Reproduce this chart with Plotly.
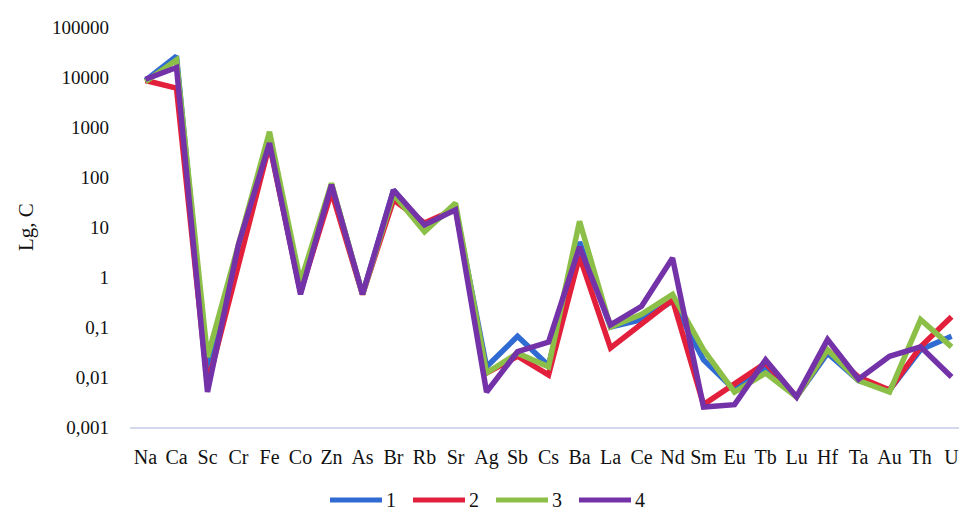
import plotly.graph_objects as go

# Elements along the x axis
elements = ["Na", "Ca", "Sc", "Cr", "Fe", "Co", "Zn", "As", "Br", "Rb", "Sr", "Ag", "Sb",
            "Cs", "Ba", "La", "Ce", "Nd", "Sm", "Eu", "Tb", "Lu", "Hf", "Ta", "Au", "Th", "U"]

# Concentrations for each sample
sample_1 = [8500, 26000, 0.012, 3.5, 550, 0.5, 70, 0.45, 55, 10, 24, 0.016, 0.065,
            0.017, 5, 0.1, 0.14, 0.33, 0.022, 0.0055, 0.016, 0.004, 0.03, 0.0085, 0.0055, 0.035, 0.065]
sample_2 = [8500, 6000, 0.007, 2, 450, 0.5, 50, 0.45, 35, 12, 23, 0.012, 0.026,
            0.011, 2.6, 0.038, 0.12, 0.35, 0.0028, 0.0075, 0.019, 0.004, 0.035, 0.01, 0.0055, 0.04, 0.16]
sample_3 = [8000, 22000, 0.025, 4, 800, 0.8, 75, 0.45, 45, 8, 30, 0.012, 0.03,
            0.016, 13, 0.1, 0.18, 0.45, 0.035, 0.005, 0.012, 0.004, 0.035, 0.0085, 0.005, 0.14, 0.04]
sample_4 = [9000, 15500, 0.005, 4.5, 480, 0.45, 70, 0.45, 55, 11, 22, 0.005, 0.032,
            0.05, 4, 0.11, 0.26, 2.4, 0.0025, 0.0028, 0.022, 0.004, 0.056, 0.009, 0.026, 0.04, 0.01]

series_names = ["1", "2", "3", "4"]
series_values = [sample_1, sample_2, sample_3, sample_4]
series_colors = ["#2f6bd2", "#e2203c", "#8cbf48", "#7432a8"]

# Log axis ticks with comma decimal separators
y_tickvals = [0.001, 0.01, 0.1, 1, 10, 100, 1000, 10000, 100000]
y_ticktext = ["0,001", "0,01", "0,1", "1", "10", "100", "1000", "10000", "100000"]

FONT = "Liberation Serif"
W, H = 959, 511
ML, MR, MT, MB = 130, 0, 27, 84
PW, PH = W - ML - MR, H - MT - MB

fig = go.Figure()
for name, vals, col in zip(series_names, series_values, series_colors):
    fig.add_trace(go.Scatter(x=elements, y=vals, mode="lines", name=name,
                             line=dict(color=col, width=5.5), showlegend=False))

# Legend drawn below the axis: long colour strokes followed by the series number
def px_x(p):
    return (p - ML) / PW

def px_y(p):
    return (H - MB - p) / PH

leg_y = px_y(500)
for i, (name, col) in enumerate(zip(series_names, series_colors)):
    x0 = 330 + 83 * i
    fig.add_shape(type="line", xref="paper", yref="paper",
                  x0=px_x(x0), x1=px_x(x0 + 52), y0=leg_y, y1=leg_y,
                  line=dict(color=col, width=5))
    fig.add_annotation(xref="paper", yref="paper", x=px_x(x0 + 54), y=leg_y,
                       text=name, showarrow=False, xanchor="left", yanchor="middle",
                       font=dict(family=FONT, size=20, color="#111"))

# Rotated y-axis title
fig.add_annotation(xref="paper", yref="paper", x=px_x(26), y=0.5, text="Lg, C",
                   textangle=-90, showarrow=False, xanchor="center", yanchor="middle",
                   font=dict(family=FONT, size=21, color="#111"))

fig.update_layout(
    width=W, height=H,
    margin=dict(l=ML, r=MR, t=MT, b=MB),
    paper_bgcolor="white", plot_bgcolor="white",
    font=dict(family=FONT, color="#111"),
    xaxis=dict(type="category", range=[-0.5, 26.24], showgrid=False, zeroline=False,
               showline=True, linecolor="#d3d8ec", linewidth=2, ticks="",
               tickangle=0, tickfont=dict(family=FONT, size=20, color="#111"),
               ticklabelstandoff=11),
    yaxis=dict(type="log", range=[-3, 5], showgrid=False, zeroline=False, showline=False,
               tickvals=y_tickvals, ticktext=y_ticktext, ticks="",
               tickfont=dict(family=FONT, size=19, color="#111"),
               ticklabelstandoff=20),
)

fig.write_html("out.html")
